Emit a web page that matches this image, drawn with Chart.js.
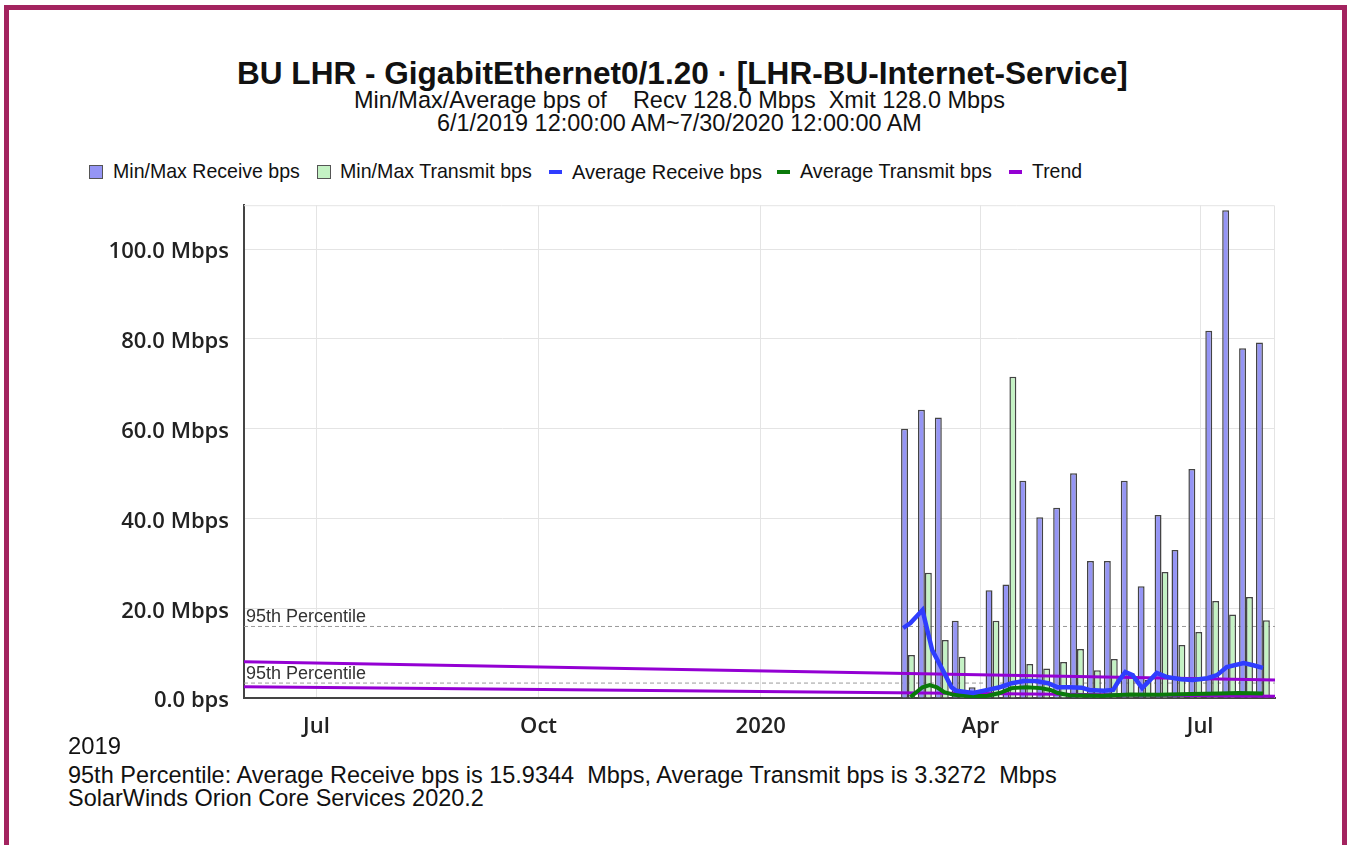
<!DOCTYPE html>
<html>
<head>
<meta charset="utf-8">
<script src="https://cdn.jsdelivr.net/npm/chart.js@4.4.1/dist/chart.umd.min.js"></script>
<style>
  html, body { margin: 0; padding: 0; background: #fff; width: 1350px; height: 845px; overflow: hidden; }
  #frame { position: absolute; left: 4px; top: 5px; width: 1333px; height: 900px; border: 5px solid #a3235f; border-bottom: none; }
  .t { position: absolute; white-space: pre; line-height: 1; transform: translateY(-50%); color: #111;
       font-family: 'Liberation Sans', Arial, sans-serif; font-size: 20px; }
  .box { position: absolute; top: 165px; width: 12px; height: 12px; border: 1px solid #555; }
  .dash { position: absolute; top: 170px; width: 13px; height: 4px; }
  #chart { position: absolute; left: 0; top: 177px; }
</style>
</head>
<body>
<div id="frame"></div>

<div class="t" data-x="237" data-w="891" data-y="74" style="font-weight:bold;font-size:31px">BU LHR - GigabitEthernet0/1.20 · [LHR-BU-Internet-Service]</div>
<div class="t" data-x="354" data-w="651" data-y="101">Min/Max/Average bps of    Recv 128.0 Mbps  Xmit 128.0 Mbps</div>
<div class="t" data-x="437" data-w="485" data-y="124">6/1/2019 12:00:00 AM~7/30/2020 12:00:00 AM</div>

<div class="box" style="left:89px;background:#9595f5"></div>
<div class="t" data-x="113" data-w="187" data-y="172">Min/Max Receive bps</div>
<div class="box" style="left:317px;background:#c4f2c4"></div>
<div class="t" data-x="340" data-w="192" data-y="172">Min/Max Transmit bps</div>
<div class="dash" style="left:549px;background:#2f3dff"></div>
<div class="t" data-x="572" data-w="190" data-y="172">Average Receive bps</div>
<div class="dash" style="left:777px;background:#0a7a0a"></div>
<div class="t" data-x="800" data-w="192" data-y="172">Average Transmit bps</div>
<div class="dash" style="left:1009px;background:#9400d3"></div>
<div class="t" data-x="1032" data-w="50" data-y="172">Trend</div>

<canvas id="chart" width="1350" height="563"></canvas>

<div class="t" data-x="68" data-w="53" data-y="746">2019</div>
<div class="t" data-x="68" data-w="989" data-y="776">95th Percentile: Average Receive bps is 15.9344  Mbps, Average Transmit bps is 3.3272  Mbps</div>
<div class="t" data-x="68" data-w="416" data-y="799">SolarWinds Orion Core Services 2020.2</div>

<script>
// weekly min/max buckets (Mbps)
const weekDates = ['2020-03-02', '2020-03-09', '2020-03-16', '2020-03-23', '2020-03-30', '2020-04-06',
    '2020-04-13', '2020-04-20', '2020-04-27', '2020-05-04', '2020-05-11', '2020-05-18', '2020-05-25',
    '2020-06-01', '2020-06-08', '2020-06-15', '2020-06-22', '2020-06-29', '2020-07-06', '2020-07-13',
    '2020-07-20', '2020-07-27'];
const maxReceive = [60.0, 64.2, 62.5, 17.2, 2.4, 24.0, 25.3, 48.4, 40.3, 42.4, 50.1, 30.5, 30.5,
    48.4, 24.9, 40.8, 33.0, 51.0, 81.8, 108.7, 77.9, 79.2];
const maxTransmit = [9.6, 27.9, 12.9, 9.2, 1.5, 17.2, 71.6, 7.6, 6.6, 8.0, 10.9, 6.2, 8.7,
    5.5, 4.0, 28.1, 11.8, 14.7, 21.6, 18.6, 22.5, 17.3];

// averages (Mbps)
const avgReceiveDates = ['2020-02-29', '2020-03-03', '2020-03-08', '2020-03-12', '2020-03-17', '2020-03-20',
    '2020-03-22', '2020-03-29', '2020-04-04', '2020-04-09', '2020-04-14', '2020-04-19', '2020-04-24',
    '2020-04-29', '2020-05-03', '2020-05-08', '2020-05-13', '2020-05-16', '2020-05-22', '2020-05-26',
    '2020-05-28', '2020-05-31', '2020-06-03', '2020-06-07', '2020-06-09', '2020-06-13', '2020-06-17',
    '2020-06-23', '2020-06-28', '2020-07-04', '2020-07-08', '2020-07-12', '2020-07-19', '2020-07-23',
    '2020-07-27'];
const avgReceive = [15.6, 16.7, 19.6, 10.7, 5.6, 2.4, 1.6, 1.1, 1.8, 2.4, 3.3, 3.8, 3.8,
    3.3, 2.4, 2.4, 2.3, 1.8, 1.6, 1.8, 3.6, 5.8, 5.1, 2.2, 3.3, 5.6, 4.7,
    4.2, 4.0, 4.4, 5.1, 6.9, 7.8, 7.3, 6.7];
const avgTransmitDates = ['2020-03-03', '2020-03-08', '2020-03-11', '2020-03-14', '2020-03-17', '2020-03-21',
    '2020-03-29', '2020-04-04', '2020-04-09', '2020-04-14', '2020-04-20', '2020-04-26', '2020-04-30',
    '2020-05-03', '2020-05-08', '2020-05-21', '2020-06-02', '2020-06-14', '2020-06-27', '2020-07-09',
    '2020-07-17', '2020-07-27'];
const avgTransmit = [0.2, 2.4, 2.9, 2.4, 1.3, 0.7, 0.4, 0.5, 1.1, 2.2, 2.4, 2.2, 1.8,
    1.1, 0.6, 0.5, 0.8, 0.7, 0.9, 1.0, 1.1, 1.0];

// trend lines and 95th percentile (Mbps)
const trendDates = ['2019-06-01', '2020-08-01'];
const trendReceive = [8.1, 4.0];
const trendTransmit = [2.5, 0.4];
const percentile95 = [15.9344, 3.3272];

// axes
const xTickDates = ['2019-07-01', '2019-10-01', '2020-01-01', '2020-04-01', '2020-07-01'];
const xTickLabels = ['Jul', 'Oct', '2020', 'Apr', 'Jul'];
const yTicks = [0, 20, 40, 60, 80, 100];

const start = Date.UTC(2019, 5, 1);
const day = s => (Date.parse(s + 'T00:00:00Z') - start) / 86400000;
const pts = (dates, vals) => dates.map((d, i) => ({ x: day(d), y: vals[i] }));

// size each caption so it spans the same width as in the reference
document.querySelectorAll('.t').forEach(el => {
    const size = parseFloat(getComputedStyle(el).fontSize);
    const w = el.getBoundingClientRect().width;
    el.style.fontSize = (size * el.dataset.w / w).toFixed(2) + 'px';
    el.style.left = el.dataset.x + 'px';
    el.style.top = el.dataset.y + 'px';
});

const plotFrame = {
    id: 'plotFrame',
    beforeDatasetsDraw(chart) {
        const { ctx, chartArea: a } = chart;
        ctx.save();
        ctx.strokeStyle = '#e4e4e4';
        ctx.lineWidth = 1;
        ctx.beginPath();
        ctx.moveTo(a.left, a.top + 0.5);
        ctx.lineTo(a.right - 0.5, a.top + 0.5);
        ctx.lineTo(a.right - 0.5, a.bottom);
        ctx.stroke();
        ctx.restore();
    }
};

const percentileLabels = {
    id: 'percentileLabels',
    afterDatasetsDraw(chart) {
        const { ctx, chartArea: a, scales: { y } } = chart;
        ctx.save();
        ctx.font = '18px "Liberation Sans"';
        ctx.fillStyle = '#333';
        percentile95.forEach(p => ctx.fillText('95th Percentile', a.left + 2, y.getPixelForValue(p) - 4));
        ctx.restore();
    }
};

const tickFont = { family: 'Open Sans', size: 22, weight: '600' };
const barStyle = { borderColor: '#444', borderWidth: 1.5, categoryPercentage: 0.82, barPercentage: 1, order: 4 };

new Chart(document.getElementById('chart'), {
    type: 'bar',
    data: {
        datasets: [
            {
                type: 'line', label: 'Average Receive bps', data: pts(avgReceiveDates, avgReceive),
                borderColor: '#2f3dff', borderWidth: 4.5, pointRadius: 0, order: 1
            },
            {
                type: 'line', label: 'Average Transmit bps', data: pts(avgTransmitDates, avgTransmit),
                borderColor: '#0a7a0a', borderWidth: 4, pointRadius: 0, order: 2
            },
            {
                type: 'line', label: 'Trend', data: pts(trendDates, trendReceive),
                borderColor: '#9400d3', borderWidth: 3, pointRadius: 0, order: 3
            },
            {
                type: 'line', label: 'Trend', data: pts(trendDates, trendTransmit),
                borderColor: '#9400d3', borderWidth: 3, pointRadius: 0, order: 3
            },
            {
                label: 'Min/Max Receive bps', data: pts(weekDates, maxReceive),
                backgroundColor: '#9595f5', ...barStyle
            },
            {
                label: 'Min/Max Transmit bps', data: pts(weekDates, maxTransmit),
                backgroundColor: '#c4f2c4', ...barStyle
            },
            {
                type: 'line', label: '95th Percentile', data: pts(trendDates, [percentile95[0], percentile95[0]]),
                borderColor: '#9a9a9a', borderWidth: 1, borderDash: [4, 3], pointRadius: 0, order: 5
            },
            {
                type: 'line', label: '95th Percentile', data: pts(trendDates, [percentile95[1], percentile95[1]]),
                borderColor: '#9a9a9a', borderWidth: 1, borderDash: [4, 3], pointRadius: 0, order: 5
            }
        ]
    },
    options: {
        responsive: false,
        animation: false,
        events: [],
        layout: { padding: { top: 0, right: 75, left: 0, bottom: 0 } },
        plugins: {
            legend: { display: false },
            tooltip: { enabled: false }
        },
        scales: {
            x: {
                type: 'linear',
                min: 0,
                max: day('2020-08-01'),
                offset: false,
                grid: { offset: false, color: '#e4e4e4', drawTicks: false },
                border: { color: '#444', width: 2 },
                afterBuildTicks: s => { s.ticks = xTickDates.map(d => ({ value: day(d) })); },
                afterFit: s => { s.height = 42; },
                ticks: {
                    padding: 16, color: '#222', font: tickFont, maxRotation: 0, autoSkip: false,
                    callback: (v, i) => xTickLabels[i]
                }
            },
            y: {
                min: 0,
                max: 109.8,
                grid: { color: '#e4e4e4', drawTicks: false },
                border: { color: '#444', width: 2 },
                afterBuildTicks: s => { s.ticks = yTicks.map(v => ({ value: v })); },
                afterFit: s => { s.width = 244; },
                ticks: {
                    padding: 15, labelOffset: 3, color: '#222', font: tickFont,
                    callback: v => v === 0 ? '0.0 bps' : v.toFixed(1) + ' Mbps'
                }
            }
        }
    },
    plugins: [plotFrame, percentileLabels]
});
</script>
</body>
</html>
